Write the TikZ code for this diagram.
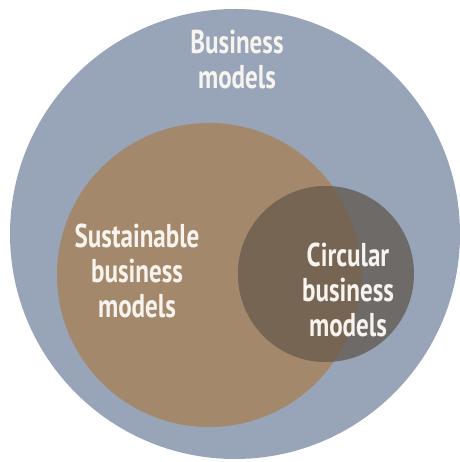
\documentclass[tikz,border=0pt]{standalone}
\usepackage{fontspec}
\newfontfamily\vennfont{PT Sans}[FakeStretch=0.76]
\definecolor{bmblue}{HTML}{98A4B7}
\definecolor{sbmbrown}{HTML}{A4886B}
\definecolor{cbmgrey}{HTML}{6E6A68}
\definecolor{overlap}{HTML}{766553}
\definecolor{labelwhite}{HTML}{F7F3EE}

\begin{document}
\begin{tikzpicture}[x=1pt,y=1pt]
\tikzset{ring/.style={circle, inner sep=0pt, draw=none},
  vennlabel/.style={align=center, text=labelwhite, font=\vennfont\bfseries\fontsize{33}{35}\selectfont}}
\useasboundingbox (0,0) rectangle (459,462);
\node[ring, fill=bmblue, minimum size=450pt] (BM) at (235,228) {};
\node[ring, fill=sbmbrown, minimum size=304pt] (SBM) at (209,187) {};
\node[ring, fill=cbmgrey, minimum size=176pt] (CBM) at (326,188) {};
\begin{scope}
\clip (SBM.center) circle[radius=152pt];
\fill[overlap] (CBM.center) circle[radius=88pt];
\end{scope}
\node[vennlabel] (LBM) at (237,402) {Business\\models};
\node[vennlabel] (LSBM) at (137,191) {Sustainable\\business\\models};
\node[vennlabel] (LCBM) at (348,172) {Circular\\business\\models};
\end{tikzpicture}
\end{document}
